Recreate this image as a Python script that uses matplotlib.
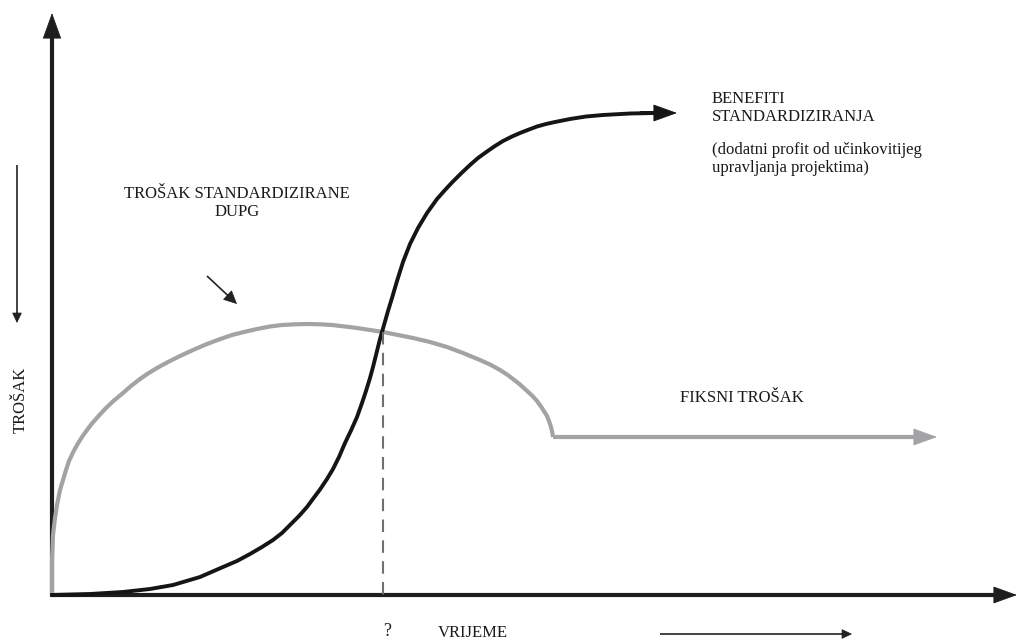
# Troškovi i benefiti standardizacije kroz vrijeme (konceptualni dijagram)
import matplotlib.pyplot as plt

plt.rcParams['font.family'] = ['Liberation Serif', 'DejaVu Serif']

# crna krivulja - benefiti standardiziranja (x, y u pikselima slike)
benefit_x = [52, 90, 123, 150, 173, 200, 223, 237, 250, 262, 273, 282, 290, 299,
             307, 314, 320, 327, 333, 339, 345, 351, 357, 362, 366, 370, 373, 377,
             380, 384, 388, 392, 397, 403, 410, 418, 427, 437, 445, 452, 461, 470,
             478, 487, 495, 503, 512, 520, 529, 537, 546, 555, 570, 586, 603, 630,
             655]
benefit_y = [595, 594, 592, 589, 585, 577, 567, 561, 554, 547, 540, 533, 525, 516,
             507, 497.5, 489.5, 479, 469, 457, 443, 430.5, 417, 403, 391, 378, 367,
             351, 339, 325, 311, 298, 281, 262, 244, 228, 213, 199, 190, 182.5,
             173.5, 165, 158, 151.5, 146, 141, 136.5, 133, 129.5, 126.5, 124, 122,
             119, 116.5, 115, 113.5, 113]

# siva krivulja - trošak standardizirane DUPG
trosak_x = [52, 52, 53, 55, 57, 60, 63, 66, 69, 73, 77, 82, 87, 92, 99, 106, 114,
            123, 131, 140, 148, 157, 168, 180, 193, 207, 219, 232, 244, 257, 270,
            282, 295, 307, 320, 332, 345, 357, 370, 383, 398, 413, 430, 447, 463,
            480, 490, 500, 507, 513, 520, 526, 532, 537, 542, 547, 549, 551, 552,
            553]
trosak_y = [596, 560, 535, 518, 505, 490, 480, 470, 461, 452.5, 445, 437, 430,
            423.5, 415.5, 408, 400.5, 393, 386, 379, 373.5, 368, 362, 356, 350, 344,
            339.5, 335, 332, 329, 326.5, 325, 324.3, 324, 324.3, 325, 326.5, 328,
            330, 332, 335, 338, 342, 347, 353, 360, 364.5, 370, 374.5, 379, 384.5,
            390, 395.5, 401, 408, 416, 421, 427, 431, 437]

# fiksni trošak (početak i kraj strelice)
fiksni_x = [553, 937]
fiksni_y = [437, 437]

# točka presjeka
presjek_x = 383
presjek_y = 332

fig = plt.figure(figsize=(10.19, 6.40), dpi=100)
ax = fig.add_axes([0, 0, 1, 1])
ax.set_xlim(0, 1019)
ax.set_ylim(640, 0)
ax.axis('off')

axis_col = '#1e1e1e'
gray = '#a3a3a5'


# linija + ispunjena glava strelice (glava bez debelog obruba)
def arrow(x0, y0, x1, y1, color, lw, head=24, hw=0.33):
    dx, dy = x1 - x0, y1 - y0
    d = (dx ** 2 + dy ** 2) ** 0.5
    bx, by = x1 - dx / d * head * 0.8, y1 - dy / d * head * 0.8
    ax.plot([x0, bx], [y0, by], color=color, lw=lw, solid_capstyle='butt')
    ms = head / 1.39  # px -> pt
    hx, hy = x1 - dx / d * head * 1.2, y1 - dy / d * head * 1.2
    ax.annotate('', xy=(x1, y1), xytext=(hx, hy),
                arrowprops=dict(arrowstyle='-|>,head_length=%.2f,head_width=%.2f'
                                % (1.0 / 1.2, hw),
                                lw=0.6, color=color, mutation_scale=ms * 1.2,
                                shrinkA=0, shrinkB=0, joinstyle='miter'))


# osi
arrow(52, 596, 52, 13, axis_col, 3, head=24, hw=0.3)
arrow(51, 595, 1017, 595, axis_col, 3, head=22, hw=0.3)

# krivulje
ax.plot(trosak_x, trosak_y, color=gray, lw=3, solid_capstyle='butt',
        solid_joinstyle='round')
arrow(fiksni_x[0], fiksni_y[0], fiksni_x[1], fiksni_y[1], gray, 3, head=22, hw=0.3)

ax.plot(benefit_x, benefit_y, color='#151515', lw=2.8, solid_joinstyle='round')
arrow(640, 113, 677, 113, '#151515', 2.8, head=22, hw=0.3)

# isprekidana linija
ax.plot([presjek_x, presjek_x], [presjek_y, 595], color='#707070', lw=1.5,
        dashes=(6, 4))

# male strelice
arrow(17, 165, 17, 323, '#222222', 1.2, head=9, hw=0.4)
arrow(207, 276, 237, 304, '#222222', 1.2, head=12, hw=0.4)
arrow(660, 634, 852, 634, '#222222', 1.2, head=9, hw=0.4)

# tekstovi
fs = 12
tc = '#1a1a1a'
ax.text(237, 203, 'TROŠAK STANDARDIZIRANE\nDUPG', ha='center', va='center',
        fontsize=fs, color=tc, linespacing=1.2)
ax.text(712, 108, 'BENEFITI\nSTANDARDIZIRANJA', ha='left', va='center',
        fontsize=fs, color=tc, linespacing=1.15)
ax.text(712, 159, '(dodatni profit od učinkovitijeg\nupravljanja projektima)',
        ha='left', va='center', fontsize=fs, color=tc, linespacing=1.2)
ax.text(742, 398, 'FIKSNI TROŠAK', ha='center', va='center', fontsize=fs, color=tc)
ax.text(21, 400, 'TROŠAK', ha='center', va='center', rotation=90, fontsize=fs, color=tc)
ax.text(387, 632, '?', ha='center', va='center', fontsize=fs + 1, color=tc)
ax.text(473, 633, 'VRIJEME', ha='center', va='center', fontsize=fs, color=tc)

fig.savefig('out.png', dpi=100)
